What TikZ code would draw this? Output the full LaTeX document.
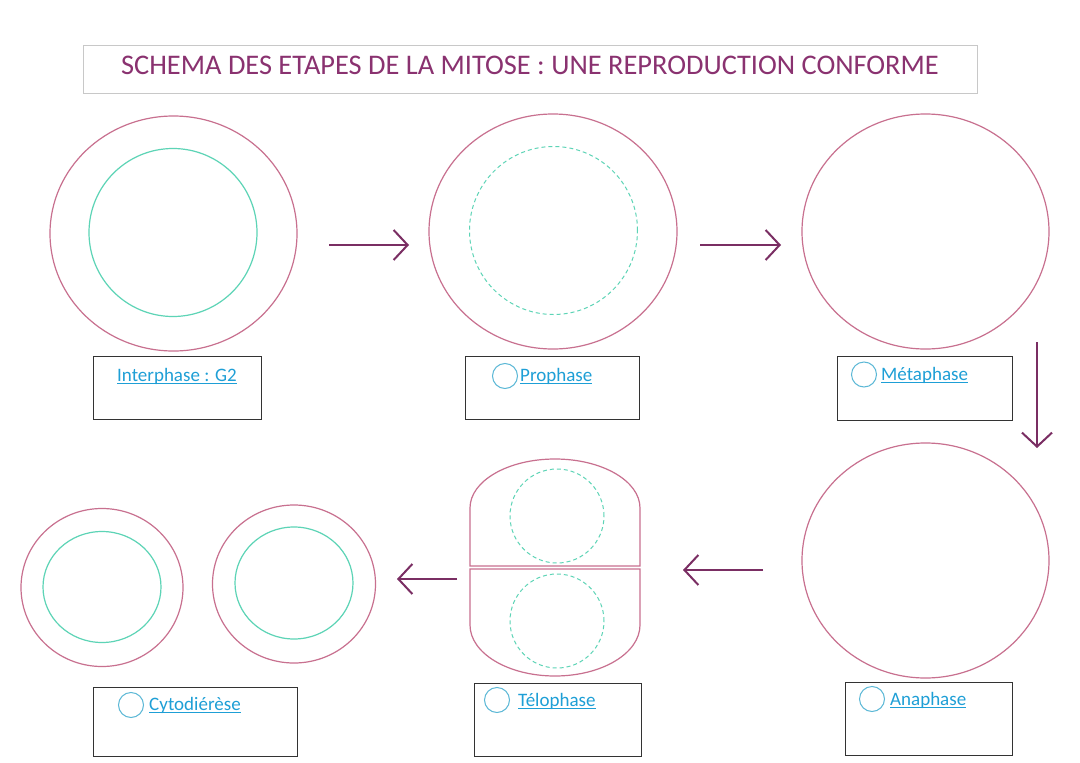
\documentclass[tikz,border=0pt]{standalone}
\usepackage{fontspec}
\setmainfont{Carlito}
\usetikzlibrary{arrows.meta,shapes.geometric}
\definecolor{cellpink}{HTML}{C8708F}
\definecolor{nucgreen}{HTML}{5DD4B6}
\definecolor{arrowpurple}{HTML}{7A2E63}
\definecolor{titlepurple}{HTML}{8A3270}
\definecolor{labelblue}{HTML}{1E9FD6}
\definecolor{ringblue}{HTML}{5BB8D6}
\definecolor{titlegray}{HTML}{C8C8C8}
\newcommand{\lineunder}[1]{\vtop{\hbox{\smash{#1}}\kern2.2pt\hrule height 1.1pt}}
\begin{document}
\begin{tikzpicture}[x=1pt,y=-1pt,
 cell/.style={ellipse, draw=cellpink, line width=1.2pt, inner sep=0pt},
 nucleus/.style={circle, draw=nucgreen, line width=1.2pt, inner sep=0pt},
 dashnuc/.style={circle, draw=nucgreen, line width=1pt, dash pattern=on 4pt off 3pt, inner sep=0pt},
 flow/.style={draw=arrowpurple, line width=2pt, -{Straight Barb[length=14pt,width=30pt]}},
 labelbox/.style={draw=black!80, line width=1pt, inner sep=0pt, anchor=north west},
 ring/.style={circle, draw=ringblue, line width=1pt, minimum size=25pt, inner sep=0pt},
 lbl/.style={anchor=base west, inner sep=0pt, text=labelblue, font=\fontsize{19}{22}\selectfont},
 telo/.style={draw=cellpink, line width=1.2pt}
]
\useasboundingbox (0,0) rectangle (1080,763);
\fill[white] (0,0) rectangle (1080,763);

% title
\node[draw=titlegray, line width=1pt, minimum width=894pt, minimum height=48pt, anchor=north west, inner sep=0pt] (titlebox) at (83,45) {};
\node[text=titlepurple, font=\fontsize{28.4}{31}\selectfont, inner sep=0pt] (title) at (530,65) {SCHEMA DES ETAPES DE LA MITOSE : UNE REPRODUCTION CONFORME};

% Interphase
\node[cell, minimum width=247pt, minimum height=235pt] (interC) at (173.5,233.5) {};
\node[nucleus, minimum size=168pt] (interN) at (173,232.5) {};
% Prophase
\node[cell, minimum width=248pt, minimum height=235pt] (proC) at (553,231.5) {};
\node[dashnuc, minimum size=168pt] (proN) at (553.5,230.5) {};
% Metaphase
\node[cell, minimum width=247pt, minimum height=235pt] (metaC) at (925.5,231.5) {};
% Anaphase
\node[cell, minimum width=247pt, minimum height=235pt] (anaC) at (925.5,560.5) {};
% Telophase
\draw[telo] (470,566) -- (470,508) arc[start angle=180, end angle=360, x radius=85, y radius=49] -- (640,566) -- cycle;
\draw[telo] (470,569) -- (640,569) -- (640,625) arc[start angle=0, end angle=180, x radius=85, y radius=51] -- cycle;
\node[dashnuc, minimum size=94pt] (teloN1) at (557,516) {};
\node[dashnuc, minimum size=94pt] (teloN2) at (557,621) {};
% Cytodierese
\node[cell, minimum width=162pt, minimum height=158pt] (cytoC1) at (102,587.5) {};
\node[nucleus, ellipse, minimum width=118pt, minimum height=111pt] (cytoN1) at (102,587) {};
\node[cell, minimum width=163pt, minimum height=158pt] (cytoC2) at (294,584) {};
\node[nucleus, ellipse, minimum width=118pt, minimum height=112pt] (cytoN2) at (294,583) {};

% arrows
\coordinate (a1s) at (329,245); \coordinate (a1e) at (409,245);
\coordinate (a2s) at (700,245); \coordinate (a2e) at (781,245);
\coordinate (a3s) at (1037,342); \coordinate (a3e) at (1037,448);
\coordinate (a4s) at (763,570); \coordinate (a4e) at (683,570);
\coordinate (a5s) at (457,579); \coordinate (a5e) at (397,579);
\draw[flow] (a1s) -- (a1e);
\draw[flow] (a2s) -- (a2e);
\draw[flow] (a3s) -- (a3e);
\draw[flow] (a4s) -- (a4e);
\draw[flow] (a5s) -- (a5e);

% label boxes
\node[labelbox, minimum width=168pt, minimum height=63pt] (interB) at (93,356) {};
\node[labelbox, minimum width=174pt, minimum height=63pt] (proB) at (465,356) {};
\node[labelbox, minimum width=175pt, minimum height=64pt] (metaB) at (837,356) {};
\node[labelbox, minimum width=204pt, minimum height=69pt] (cytoB) at (93,687) {};
\node[labelbox, minimum width=167pt, minimum height=73pt] (teloB) at (474,683) {};
\node[labelbox, minimum width=167pt, minimum height=73pt] (anaB) at (845,682) {};

% rings
\node[ring] (proR) at (505,376) {};
\node[ring] (metaR) at (864,374.5) {};
\node[ring] (cytoR) at (131,705) {};
\node[ring] (teloR) at (497,700) {};
\node[ring] (anaR) at (872,699) {};

% labels
\node[lbl] (interL) at (117,381) {\lineunder{Interphase : G2}};
\node[lbl] (proL) at (520,381) {\lineunder{Prophase}};
\node[lbl] (metaL) at (881,380) {\lineunder{Métaphase}};
\node[lbl] (cytoL) at (149,710) {\lineunder{Cytodiérèse}};
\node[lbl] (teloL) at (518,706) {\lineunder{Télophase}};
\node[lbl] (anaL) at (890,705) {\lineunder{Anaphase}};
\end{tikzpicture}
\end{document}
